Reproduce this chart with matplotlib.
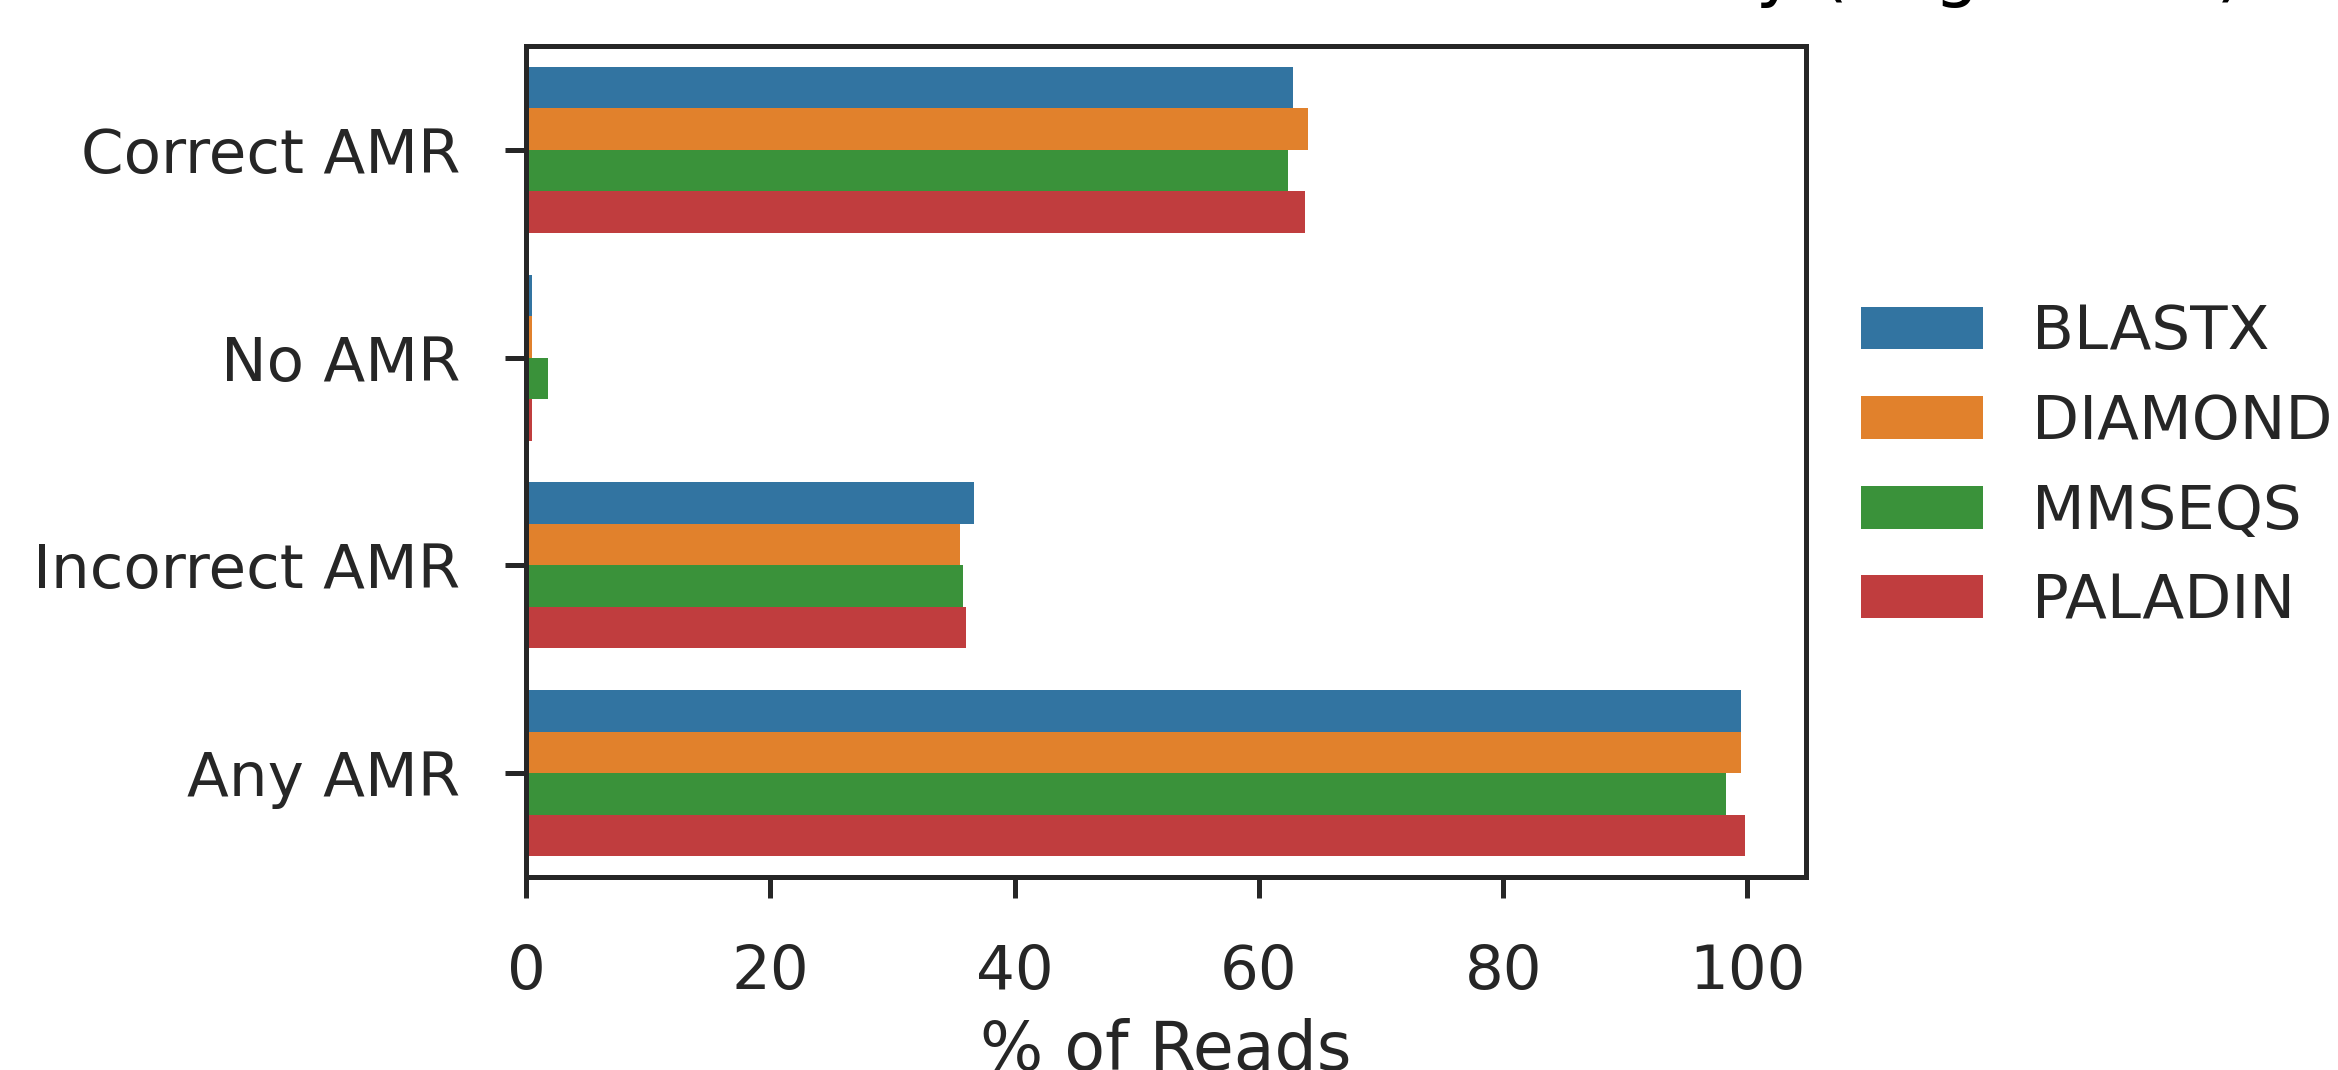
import numpy as np
import matplotlib.pyplot as plt

# % of reads per outcome, one list per aligner
categories = ["Correct AMR", "No AMR", "Incorrect AMR", "Any AMR"]
tools = ["BLASTX", "DIAMOND", "MMSEQS", "PALADIN"]
blastx = [62.8, 0.5, 36.7, 99.5]
diamond = [64.0, 0.5, 35.5, 99.5]
mmseqs = [62.4, 1.8, 35.8, 98.2]
paladin = [63.8, 0.5, 36.0, 99.8]
colors = ["#3274a1", "#e1812c", "#3a923a", "#c03d3e"]

title = "Antimicrobial Resistance Classification Accuracy (Avg Reads)"

plt.rcParams["font.family"] = "DejaVu Sans"
plt.rcParams["text.color"] = "#262626"
plt.rcParams["axes.labelcolor"] = "#262626"
plt.rcParams["xtick.color"] = "#262626"
plt.rcParams["ytick.color"] = "#262626"

fig = plt.figure(figsize=(11.69, 5.35), dpi=200)
ax = fig.add_axes([526 / 2338, 1 - 877 / 1070, 1280 / 2338, 831 / 1070])

y = np.arange(len(categories))
width = 0.2
for i, (vals, name, c) in enumerate(zip([blastx, diamond, mmseqs, paladin], tools, colors)):
    ax.barh(y + (i - 1.5) * width, vals, height=width, color=c, label=name, linewidth=0)

ax.set_ylim(3.5, -0.5)
ax.set_yticks(y)
ax.set_yticklabels(categories)
ax.set_xticks([0, 20, 40, 60, 80, 100])

for s in ax.spines.values():
    s.set_linewidth(1.8)
    s.set_color("#262626")
ax.tick_params(axis="both", length=7.6, width=1.8, pad=16, labelsize=22)
ax.set_xlabel("% of Reads", fontsize=24, labelpad=6)

# title sits above the top edge of the figure
ax.text(0.5, 1.064, title, transform=ax.transAxes, ha="center", va="baseline",
        fontsize=25.5, color="black")

ax.legend(loc="center left", bbox_to_anchor=(1.0, 0.493), frameon=False, fontsize=22)

fig.savefig("out.png", dpi=200)
